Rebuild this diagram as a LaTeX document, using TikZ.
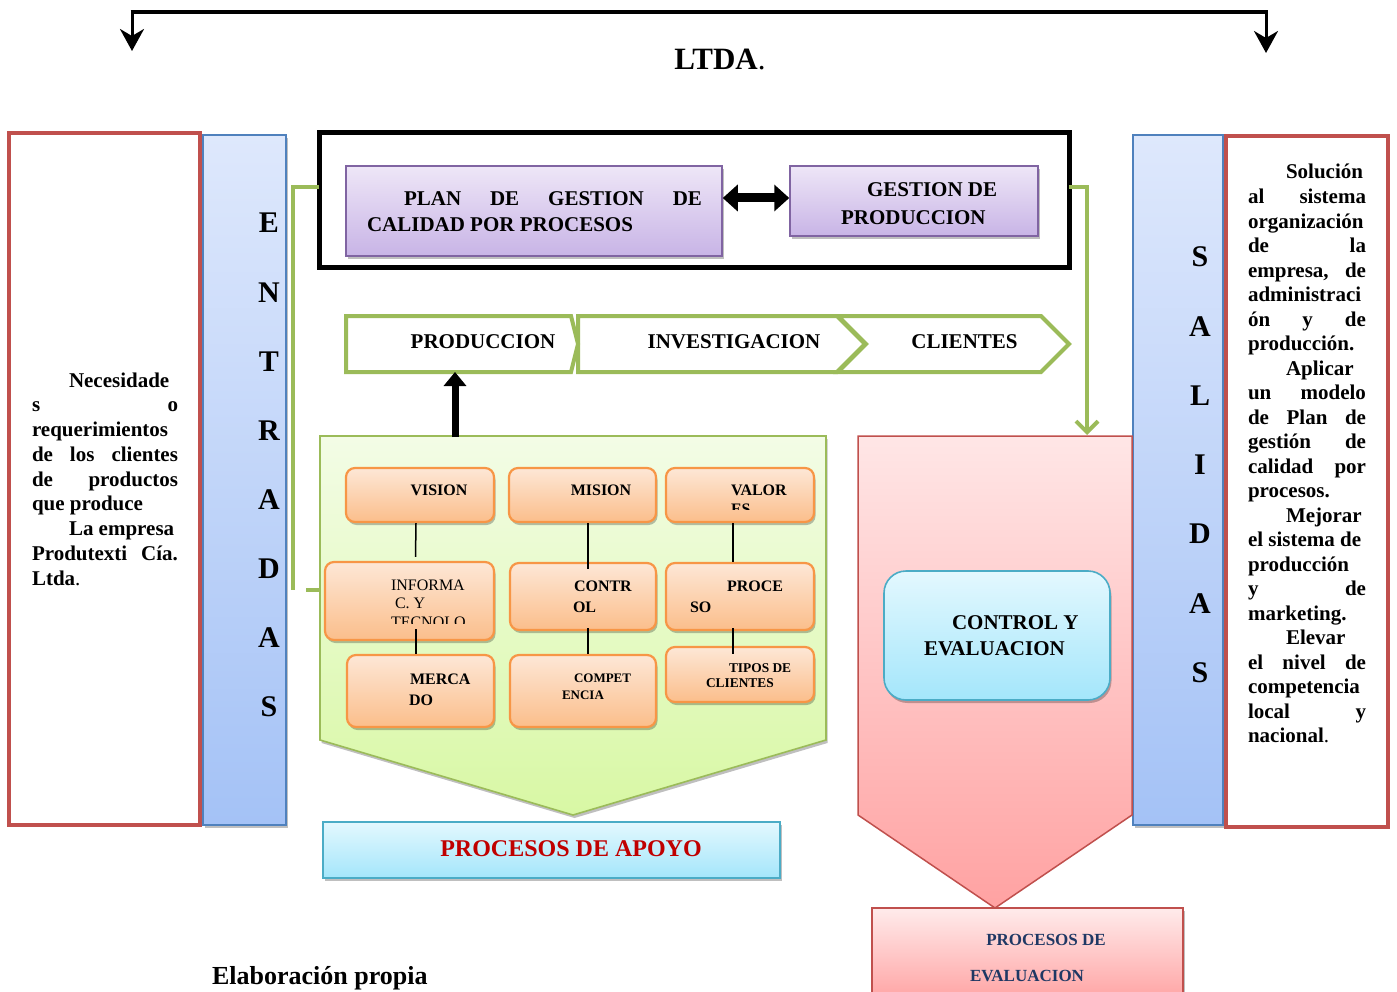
\documentclass[tikz,border=0pt]{standalone}
\usepackage{fontspec}
\setmainfont{Liberation Serif}
\usetikzlibrary{arrows.meta,shadows}

\definecolor{redline}{HTML}{C0504D}
\definecolor{blueline}{HTML}{4F81BD}
\definecolor{blueA}{HTML}{DEE8FC}
\definecolor{blueB}{HTML}{A4C2F6}
\definecolor{purpleline}{HTML}{8064A2}
\definecolor{purpleA}{HTML}{EEE6F7}
\definecolor{purpleB}{HTML}{C8B4E6}
\definecolor{greenline}{HTML}{9BBB59}
\definecolor{greenA}{HTML}{F3FCE6}
\definecolor{greenB}{HTML}{D8F8A4}
\definecolor{orangeline}{HTML}{F79646}
\definecolor{orangeA}{HTML}{FDE7D6}
\definecolor{orangeB}{HTML}{FBBE8B}
\definecolor{pinkA}{HTML}{FFE6E6}
\definecolor{pinkB}{HTML}{FFA2A2}
\definecolor{cyanline}{HTML}{4BACC6}
\definecolor{cyanA}{HTML}{E3F8FE}
\definecolor{cyanB}{HTML}{A4E6FB}
\definecolor{apoyored}{HTML}{C00000}
\definecolor{navy}{HTML}{1F3864}

\begin{document}
\begin{tikzpicture}[x=1pt,y=-1pt,
  txt/.style={inner sep=0pt, outer sep=0pt, font=\bfseries},
  softshadow/.style={drop shadow={shadow xshift=1.5pt, shadow yshift=-3pt, opacity=0.25, fill=black}},
  redbox/.style={draw=redline, line width=3.5pt, fill=white, inner sep=0pt},
  bluebar/.style={draw=blueline, line width=1.2pt, top color=blueA, bottom color=blueB, inner sep=0pt, softshadow},
  purplebox/.style={draw=purpleline, line width=1.5pt, top color=purpleA, bottom color=purpleB, inner sep=0pt, softshadow},
  orangebox/.style={draw=orangeline, line width=2.2pt, rounded corners=9pt, top color=orangeA, bottom color=orangeB, inner sep=0pt, softshadow},
  cyanbox/.style={draw=cyanline, line width=1.6pt, top color=cyanA, bottom color=cyanB, inner sep=0pt, softshadow},
  evalbox/.style={draw=redline, line width=1.5pt, top color=pinkA!80, bottom color=pinkB, inner sep=0pt, softshadow},
  chevron/.style={draw=greenline, line width=4pt, fill=white, line join=miter},
  greenlink/.style={draw=greenline, line width=4pt},
  link/.style={draw=black, line width=1.5pt},
  letter/.style={txt, anchor=base, font=\fontsize{30}{30}\selectfont\bfseries},
  boxtext/.style={txt, anchor=base west, font=\fontsize{16}{21}\selectfont\bfseries},
  bigtext/.style={txt, font=\fontsize{21}{26}\selectfont\bfseries},
  downtip/.style={-{Stealth[length=22pt,width=24pt,inset=7pt]}}
]
\useasboundingbox (0,0) rectangle (1397,992);

% ---------- top bracket ----------
\coordinate (brL) at (132,51);
\coordinate (brLtop) at (132,12);
\coordinate (brRtop) at (1266,12);
\coordinate (brR) at (1266,53);
\draw[line width=4.5pt] ([xshift=-1.5pt]brLtop) -- ([xshift=1.5pt]brRtop);
\draw[line width=3pt, downtip] (brLtop) -- (brL);
\draw[line width=3pt, downtip] (brRtop) -- (brR);
\node[txt, anchor=base, font=\fontsize{31}{31}\selectfont\bfseries] (ltda) at (720,70) {LTDA\textmd{.}};

% ---------- side panels ----------
\node[redbox, minimum width=191pt, minimum height=692pt] (inbox) at (104.5,479) {};
\node[bluebar, minimum width=83pt, minimum height=690pt] (entradas) at (244.5,480) {};
\node[bluebar, minimum width=90pt, minimum height=690pt] (salidas) at (1178,480) {};
\node[redbox, minimum width=162pt, minimum height=691pt] (outbox) at (1307,481.5) {};

\foreach \l [count=\i] in {E,N,T,R,A,D,A,S}
  \node[letter] (ent\i) at (269,{233+69*(\i-1)}) {\l};
\foreach \l [count=\i] in {S,A,L,I,D,A,S}
  \node[letter] (sal\i) at (1200,{267+69.2*(\i-1)}) {\l};

\node[txt, anchor=base west] (needs) at (32,387) {\fontsize{21}{24.75}\selectfont\bfseries\vtop{\hsize=146pt
  \hbox to\hsize{\hspace{37pt}Necesidade\hfil}
  \hbox to\hsize{s\hfill o}
  \hbox to\hsize{requerimientos\hfil}
  \hbox to\hsize{de\hfill los\hfill clientes}
  \hbox to\hsize{de\hfill productos}
  \hbox to\hsize{que produce\hfil}
  \hbox to\hsize{\hspace{37pt}La empresa\hfil}
  \hbox to\hsize{Produtexti\hfill Cía.}
  \hbox to\hsize{Ltda\textmd{.}\hfil}}};

\node[txt, anchor=base west] (goals) at (1248,179) {\fontsize{21}{24.52}\selectfont\bfseries\vtop{\hsize=118pt
  \hbox to\hsize{\hspace{38pt}Solución\hfil}
  \hbox to\hsize{al\hfill sistema}
  \hbox to\hsize{organización\hfil}
  \hbox to\hsize{de\hfill la}
  \hbox to\hsize{empresa,\hfill de}
  \hbox to\hsize{administraci\hfil}
  \hbox to\hsize{ón\hfill y\hfill de}
  \hbox to\hsize{producción.\hfil}
  \hbox to\hsize{\hspace{38pt}Aplicar\hfil}
  \hbox to\hsize{un\hfill modelo}
  \hbox to\hsize{de\hfill Plan\hfill de}
  \hbox to\hsize{gestión\hfill de}
  \hbox to\hsize{calidad\hfill por}
  \hbox to\hsize{procesos.\hfil}
  \hbox to\hsize{\hspace{38pt}Mejorar\hfil}
  \hbox to\hsize{el sistema de\hfil}
  \hbox to\hsize{producción\hfil}
  \hbox to\hsize{y\hfill de}
  \hbox to\hsize{marketing.\hfil}
  \hbox to\hsize{\hspace{38pt}Elevar\hfil}
  \hbox to\hsize{el\hfill nivel\hfill de}
  \hbox to\hsize{competencia\hfil}
  \hbox to\hsize{local\hfill y}
  \hbox to\hsize{nacional\textmd{.}\hfil}}};

% ---------- strategic frame ----------
\node[draw=black, line width=5pt, fill=white, minimum width=750pt, minimum height=135pt, inner sep=0pt] (frame) at (694,200.5) {};
\node[purplebox, minimum width=376pt, minimum height=90pt] (plan) at (534,211) {};
\node[purplebox, minimum width=248pt, minimum height=70pt] (gestion) at (914,201) {};
\node[bigtext, anchor=base west] (plantxt) at (367,206) {\vtop{
  \hbox to 335pt{\hspace{37pt}PLAN\hfill DE\hfill GESTION\hfill DE}
  \hbox{CALIDAD POR PROCESOS}}};
\node[bigtext, anchor=base west, font=\fontsize{21}{28}\selectfont\bfseries] (gesttxt) at (841,197) {\vtop{
  \hbox{\hspace{26pt}GESTION DE}
  \hbox{PRODUCCION}}};
\draw[line width=9pt, {Triangle[length=15pt,width=26pt]}-{Triangle[length=15pt,width=26pt]}]
  ([yshift=13pt]plan.east) -- ([yshift=3pt]gestion.west);

% ---------- value chain ----------
\draw[chevron] (838,316) -- (1041,316) -- (1069,344) -- (1041,372) -- (838,372) -- (866,344) -- cycle;
\draw[chevron] (578,316) -- (837,316) -- (865,344) -- (837,372) -- (578,372) -- cycle;
\draw[chevron] (346,316) -- (571,316) -- (578,344) -- (571,372) -- (346,372) -- cycle;
\node[bigtext, anchor=base] (prodtxt) at (483,348) {PRODUCCION};
\node[bigtext, anchor=base] (invtxt) at (734,348) {INVESTIGACION};
\node[bigtext, anchor=base] (clitxt) at (964.5,348) {CLIENTES};
\coordinate (chainbase) at (455,372);

% ---------- green connectors ----------
\coordinate (gl1) at (319,187);
\coordinate (gl2) at (293,187);
\coordinate (gl3) at (293,590);
\coordinate (gl4) at (306,590);
\coordinate (gl5) at (322,590);
\draw[greenlink] (gl1) -- (gl2) -- (gl3);
\draw[greenlink] (gl4) -- (gl5);
\coordinate (gr1) at (1069,187);
\coordinate (gr2) at (1087,187);
\coordinate (gr3) at (1087,435);
\draw[greenlink, -{Straight Barb[length=11pt,width=22pt,line width=4pt]}] (gr1) -- (gr2) -- (gr3);

% ---------- support processes ----------
\path[draw=greenline, line width=1.6pt, top color=greenA, bottom color=greenB, softshadow]
  (320,436) -- (826,436) -- (826,740) -- (573,815) -- (320,740) -- cycle;
\coordinate (apoyotop) at (455,437);
\draw[line width=7pt, -{Triangle[length=14pt,width=22pt]}] (apoyotop) -- (chainbase);

\node[orangebox, minimum width=148pt, minimum height=54pt] (vision) at (420,495) {};
\node[orangebox, minimum width=147pt, minimum height=54pt] (mision) at (582.5,495) {};
\node[orangebox, minimum width=148pt, minimum height=54pt] (valor) at (740,495) {};
\node[orangebox, minimum width=169pt, minimum height=78pt] (informa) at (409.5,601) {};
\node[orangebox, minimum width=146pt, minimum height=67pt] (contr) at (583,596.5) {};
\node[orangebox, minimum width=148pt, minimum height=67pt] (proce) at (740,596.5) {};
\node[orangebox, minimum width=147pt, minimum height=72pt] (merca) at (420.5,691) {};
\node[orangebox, minimum width=146pt, minimum height=72pt] (compet) at (583,691) {};
\node[orangebox, minimum width=148pt, minimum height=55pt] (tipos) at (740,674.5) {};

\node[boxtext, anchor=base] (visiontxt) at (439,495) {VISION};
\node[boxtext, anchor=base] (misiontxt) at (601,495) {MISION};
\begin{scope}
  \clip (666,470) rectangle (814,509);
  \node[boxtext, font=\fontsize{16}{19}\selectfont\bfseries] (valortxt) at (731,495) {\vtop{\hbox{VALOR}\hbox{ES}}};
\end{scope}
\begin{scope}
  \clip (325,565) rectangle (494,623.5);
  \node[boxtext, font=\fontsize{16}{18.5}\selectfont\mdseries] (informatxt) at (391,590) {\vtop{\hbox{INFORMA}\hbox{\hspace{4pt}C. Y}\hbox{TECNOLO}}};
\end{scope}
\node[boxtext] (contrtxt) at (574,591) {\vtop{\hbox{CONTR}\hbox{\hspace{-1pt}OL}}};
\node[boxtext] (procetxt) at (690,591) {\vtop{\hbox{\hspace{37pt}PROCE}\hbox{SO}}};
\node[boxtext] (mercatxt) at (410,684) {\vtop{\hbox{MERCA}\hbox{\hspace{-1pt}DO}}};
\node[boxtext, font=\fontsize{13}{17}\selectfont\bfseries] (competxt) at (562,682.5) {\vtop{\hbox{\hspace{12pt}COMPET}\hbox{ENCIA}}};
\node[boxtext, font=\fontsize{13.4}{15}\selectfont\bfseries] (tipostxt) at (706,672.5) {\vtop{\hbox{\hspace{23pt}TIPOS DE}\hbox{CLIENTES}}};

\draw[link] ([xshift=-4pt]vision.south) -- ([xshift=6pt,yshift=4pt]informa.north);
\draw[link] ([xshift=6.5pt,yshift=12pt]informa.south) -- ([xshift=-4.5pt]merca.north);
\draw[link] ([xshift=5.5pt]mision.south) -- ([xshift=5pt,yshift=-7pt]contr.north);
\draw[link] ([xshift=5pt,yshift=3pt]contr.south) -- ([xshift=5pt]compet.north);
\draw[link] ([xshift=-7pt]valor.south) -- ([xshift=-7pt]proce.north);
\draw[link] ([xshift=-7pt,yshift=3pt]proce.south) -- ([xshift=-7pt,yshift=-8pt]tipos.north);

\node[cyanbox, minimum width=457pt, minimum height=56pt] (apoyo) at (551.5,850) {};
\node[txt, anchor=base, text=apoyored, font=\fontsize{24}{24}\selectfont\bfseries] (apoyotxt) at (571,856) {PROCESOS DE APOYO};

% ---------- evaluation processes ----------
\path[draw=redline, line width=1.5pt, top color=pinkA, bottom color=pinkB]
  (858,436) -- (1132,436) -- (1132,815) -- (995,908) -- (858,815) -- cycle;
\node[cyanbox, rounded corners=22pt, minimum width=226pt, minimum height=129pt] (control) at (997,635.5) {};
\node[bigtext, anchor=base west] (controltxt) at (924,629) {\vtop{\hbox{\hspace{28pt}CONTROL Y}\hbox{EVALUACION}}};

\node[evalbox, minimum width=311pt, minimum height=94pt] (evalp) at (1027.5,955) {};
\node[txt, anchor=base, text=navy, font=\fontsize{17}{17}\selectfont\bfseries] (evaltxt1) at (1046,945) {PROCESOS DE};
\node[txt, anchor=base, text=navy, font=\fontsize{17}{17}\selectfont\bfseries] (evaltxt2) at (1027,981) {EVALUACION};

% ---------- source note ----------
\node[txt, anchor=base west, font=\fontsize{26}{26}\selectfont\bfseries] (source) at (212,984) {Elaboración propia};
\end{tikzpicture}
\end{document}
